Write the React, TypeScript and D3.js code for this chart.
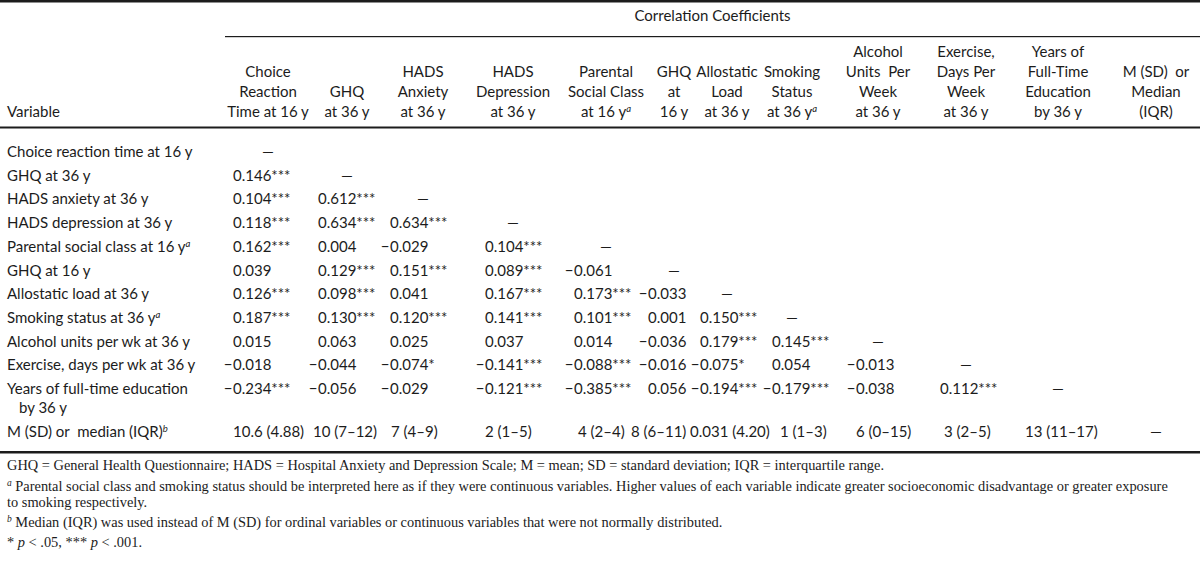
import React from "react";
import * as d3 from "d3";

const spanTitle = "Correlation Coefficients";
const stubHeader = "Variable";

const columnHeaders: string[][] = [
  ["Choice", "Reaction", "Time at 16 y"],
  ["GHQ", "at 36 y"],
  ["HADS", "Anxiety", "at 36 y"],
  ["HADS", "Depression", "at 36 y"],
  ["Parental", "Social Class", "at 16 y"],
  ["GHQ", "at", "16 y"],
  ["Allostatic", "Load", "at 36 y"],
  ["Smoking", "Status", "at 36 y"],
  ["Alcohol", "Units  Per", "Week", "at 36 y"],
  ["Exercise,", "Days Per", "Week", "at 36 y"],
  ["Years of", "Full-Time", "Education", "by 36 y"],
  ["M (SD)  or", "Median", "(IQR)"],
];
const headerSup: (string | null)[] = [null, null, null, null, "a", null, null, "a", null, null, null, null];

const rowLabels: string[] = [
  "Choice reaction time at 16 y",
  "GHQ at 36 y",
  "HADS anxiety at 36 y",
  "HADS depression at 36 y",
  "Parental social class at 16 y",
  "GHQ at 16 y",
  "Allostatic load at 36 y",
  "Smoking status at 36 y",
  "Alcohol units per wk at 36 y",
  "Exercise, days per wk at 36 y",
  "Years of full-time education",
];
const rowLabelSup: (string | null)[] = [null, null, null, null, "a", null, null, "a", null, null, null];
const rowLabelContinuation: (string | null)[] = [null, null, null, null, null, null, null, null, null, null, "by 36 y"];

const correlationValues: number[][] = [
  [],
  [0.146],
  [0.104, 0.612],
  [0.118, 0.634, 0.634],
  [0.162, 0.004, -0.029, 0.104],
  [0.039, 0.129, 0.151, 0.089, -0.061],
  [0.126, 0.098, 0.041, 0.167, 0.173, -0.033],
  [0.187, 0.13, 0.12, 0.141, 0.101, 0.001, 0.15],
  [0.015, 0.063, 0.025, 0.037, 0.014, -0.036, 0.179, 0.145],
  [-0.018, -0.044, -0.074, -0.141, -0.088, -0.016, -0.075, 0.054, -0.013],
  [-0.234, -0.056, -0.029, -0.121, -0.385, 0.056, -0.194, -0.179, -0.038, 0.112],
];
const significance: string[][] = [
  [],
  ["***"],
  ["***", "***"],
  ["***", "***", "***"],
  ["***", "", "", "***"],
  ["", "***", "***", "***", ""],
  ["***", "***", "", "***", "***", ""],
  ["***", "***", "***", "***", "***", "", "***"],
  ["", "", "", "", "", "", "***", "***"],
  ["", "", "*", "***", "***", "", "*", "", ""],
  ["***", "", "", "***", "***", "", "***", "***", "", "***"],
];

const summaryLabel = "M (SD) or  median (IQR)";
const summarySup = "b";
const summaryValues: string[] = [
  "10.6 (4.88)", "10 (7–12)", "7 (4–9)", "2 (1–5)", "4 (2–4)", "8 (6–11)",
  "0.031 (4.20)", "1 (1–3)", "6 (0–15)", "3 (2–5)", "13 (11–17)", "—",
];

const footnoteAbbrev = "GHQ = General Health Questionnaire; HADS = Hospital Anxiety and Depression Scale; M = mean; SD = standard deviation; IQR = interquartile range.";
const footnoteA1 = " Parental social class and smoking status should be interpreted here as if they were continuous variables. Higher values of each variable indicate greater socioeconomic disadvantage or greater exposure";
const footnoteA2 = "to smoking respectively.";
const footnoteB = " Median (IQR) was used instead of M (SD) for ordinal variables or continuous variables that were not normally distributed.";

// ---- layout ----
const W = 1200;
const H = 564;
const SANS = "Lato, 'Open Sans', sans-serif";
const SERIF = "'Liberation Serif', 'DejaVu Serif', serif";
const INK = "#1c1c1c";
const FS = 15;
const FN = 14.4;

const colCenter = [268, 347, 423, 513, 606, 674, 727, 792, 878, 966, 1058, 1156];
const colValueX = [233, 318, 390, 485, 574, 648, 700, 772, 856, 940];
const summaryX = [233, 313, 391, 485, 578, 631, 690, 780, 856, 944, 1025];

const headerBottom = 117;
const headerLineGap = 20;
const rowY = d3.scaleLinear().domain([0, 10]).range([152, 389]);
const fmt = d3.format(".3f");

export default function App() {
  const nRows = rowLabels.length;
  const summaryY = rowY(nRows - 1) + 43;
  const bottomRule = summaryY + 19;
  const fnY = [bottomRule + 19, bottomRule + 40, bottomRule + 56, bottomRule + 76, bottomRule + 96];

  return (
    <svg width={W} height={H} viewBox={`0 0 ${W} ${H}`} style={{ position: "absolute", left: 0, top: 0, display: "block", background: "#fff" }}>
      <rect x={0} y={0} width={W} height={H} fill="#fff" />
      <rect x={0} y={0} width={W} height={2.5} fill={INK} />
      <text x={(225 + W) / 2} y={21} textAnchor="middle" fontFamily={SANS} fontSize={FS} fill={INK}>{spanTitle}</text>
      <rect x={225} y={36} width={W - 225} height={1.2} fill={INK} />

      {columnHeaders.map((lines, c) =>
        lines.map((ln, k) => {
          const y = headerBottom - (lines.length - 1 - k) * headerLineGap;
          const isLast = k === lines.length - 1;
          return (
            <text key={`h${c}-${k}`} x={colCenter[c]} y={y} textAnchor="middle" fontFamily={SANS} fontSize={FS} fill={INK} style={{ whiteSpace: "pre" }}>
              {ln}
              {isLast && headerSup[c] ? (
                <tspan dy={-5} fontSize={9.5} fontStyle="italic">{headerSup[c]}</tspan>
              ) : null}
            </text>
          );
        })
      )}
      <text x={7} y={headerBottom} fontFamily={SANS} fontSize={FS} fill={INK}>{stubHeader}</text>
      <rect x={0} y={126.5} width={W} height={2} fill={INK} />

      {rowLabels.map((lab, r) => {
        const y = rowY(r) + 5;
        return (
          <g key={`r${r}`}>
            <text x={7} y={y} fontFamily={SANS} fontSize={FS} fill={INK}>
              {lab}
              {rowLabelSup[r] ? <tspan dy={-5} fontSize={9.5} fontStyle="italic">{rowLabelSup[r]}</tspan> : null}
            </text>
            {rowLabelContinuation[r] ? (
              <text x={19} y={y + 19} fontFamily={SANS} fontSize={FS} fill={INK}>{rowLabelContinuation[r]}</text>
            ) : null}
            {correlationValues[r].map((v, c) => {
              const s = fmt(Math.abs(v)) + significance[r][c];
              return (
                <g key={`v${r}-${c}`}>
                  {v < 0 ? (
                    <text x={colValueX[c] - 0.5} y={y} textAnchor="end" fontFamily={SANS} fontSize={FS} fill={INK}>−</text>
                  ) : null}
                  <text x={colValueX[c]} y={y} fontFamily={SANS} fontSize={FS} fill={INK}>{s}</text>
                </g>
              );
            })}
            <text x={colCenter[r]} y={y} textAnchor="middle" fontFamily={SANS} fontSize={FS} fill={INK}>—</text>
          </g>
        );
      })}

      <text x={7} y={summaryY + 5} fontFamily={SANS} fontSize={FS} fill={INK} style={{ whiteSpace: "pre" }}>
        {summaryLabel}
        <tspan dy={-5} fontSize={9.5} fontStyle="italic">{summarySup}</tspan>
      </text>
      {summaryValues.map((s, c) =>
        c < summaryX.length ? (
          <text key={`s${c}`} x={summaryX[c]} y={summaryY + 5} fontFamily={SANS} fontSize={FS} fill={INK}>{s}</text>
        ) : (
          <text key={`s${c}`} x={colCenter[c]} y={summaryY + 5} textAnchor="middle" fontFamily={SANS} fontSize={FS} fill={INK}>{s}</text>
        )
      )}
      <rect x={0} y={bottomRule} width={W} height={2.5} fill={INK} />

      <text x={7} y={fnY[0]} fontFamily={SERIF} fontSize={FN} fill={INK}>{footnoteAbbrev}</text>
      <text x={7} y={fnY[1]} fontFamily={SERIF} fontSize={FN} fill={INK} style={{ whiteSpace: "pre" }}>
        <tspan dy={-5} fontSize={9.5} fontStyle="italic">a</tspan>
        <tspan dy={5}>{footnoteA1}</tspan>
      </text>
      <text x={7} y={fnY[2]} fontFamily={SERIF} fontSize={FN} fill={INK}>{footnoteA2}</text>
      <text x={7} y={fnY[3]} fontFamily={SERIF} fontSize={FN} fill={INK} style={{ whiteSpace: "pre" }}>
        <tspan dy={-5} fontSize={9.5} fontStyle="italic">b</tspan>
        <tspan dy={5}>{footnoteB}</tspan>
      </text>
      <text x={7} y={fnY[4]} fontFamily={SERIF} fontSize={FN} fill={INK} style={{ whiteSpace: "pre" }}>
        {"* "}<tspan fontStyle="italic">p</tspan>{" < .05, *** "}<tspan fontStyle="italic">p</tspan>{" < .001."}
      </text>
    </svg>
  );
}
